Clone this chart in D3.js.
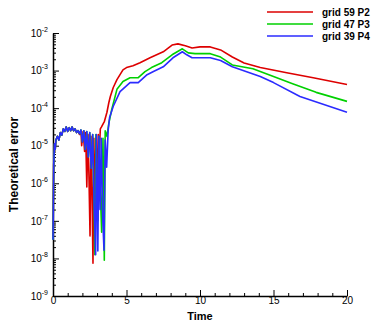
<!DOCTYPE html>
<html>
<head>
<meta charset="utf-8">
<script src="https://cdn.jsdelivr.net/npm/d3@7"></script>
<style>
  body { margin: 0; background: #fff; }
  svg { font-family: "Liberation Sans", Arial, sans-serif; }
  .axis path, .axis line { stroke: #000; }
</style>
</head>
<body>
<div id="chart"></div>
<script>
let width = 374;
let height = 322;
let padding = { left: 53, right: 27, top: 33, bottom: 26 };

// series: [time, log10(error)]
let redData = [
  [0, -7.4], [0.05, -5.5], [0.1, -4.95], [0.15, -5.1], [0.2, -4.85], [0.3, -4.75], [0.4, -4.85],
  [0.5, -4.65], [0.6, -4.72], [0.7, -4.55], [0.8, -4.62], [0.9, -4.5], [1.0, -4.62], [1.1, -4.52],
  [1.2, -4.6], [1.3, -4.5], [1.4, -4.6], [1.5, -4.55], [1.6, -4.65], [1.7, -4.6], [1.8, -4.7],
  [1.9, -4.6], [1.95, -5.0], [2.05, -4.62], [2.15, -5.15], [2.22, -4.65], [2.3, -6.1], [2.38, -4.7],
  [2.45, -5.9], [2.52, -7.4], [2.58, -4.75], [2.65, -6.2], [2.72, -8.13], [2.78, -4.8], [2.85, -6.8],
  [2.92, -4.8], [3.0, -5.8], [3.08, -4.7], [3.15, -5.2], [3.22, -4.55], [3.3, -4.5], [3.5, -4.35],
  [3.67, -4.11], [3.8, -3.85], [3.9, -3.69], [4.1, -3.45], [4.35, -3.24], [4.76, -2.98], [5.0, -2.92],
  [5.44, -2.87], [5.92, -2.79], [6.6, -2.66], [7.5, -2.5], [8.1, -2.32], [8.5, -2.29], [9.0, -2.34],
  [9.46, -2.4], [10.0, -2.37], [10.7, -2.37], [11.4, -2.45], [12.2, -2.64], [13.0, -2.8], [14.1, -2.92],
  [15.9, -3.06], [17.7, -3.19], [20, -3.37]
];
let greenData = [
  [0, -7.5], [0.05, -5.5], [0.1, -4.95], [0.15, -5.1], [0.2, -4.85], [0.3, -4.75], [0.4, -4.85],
  [0.5, -4.65], [0.6, -4.72], [0.7, -4.55], [0.8, -4.62], [0.9, -4.5], [1.0, -4.62], [1.1, -4.52],
  [1.2, -4.6], [1.3, -4.5], [1.4, -4.6], [1.5, -4.55], [1.6, -4.65], [1.7, -4.6], [1.8, -4.68],
  [1.9, -4.58], [2.0, -4.9], [2.1, -4.6], [2.2, -5.1], [2.3, -4.62], [2.4, -5.3], [2.5, -4.65],
  [2.6, -5.6], [2.7, -4.7], [2.85, -7.9], [2.92, -4.7], [3.05, -7.0], [3.12, -4.75], [3.2, -6.0],
  [3.31, -7.3], [3.4, -4.8], [3.49, -8.05], [3.55, -4.6], [3.67, -4.75], [3.8, -4.4], [4.0, -4.03],
  [4.35, -3.5], [4.76, -3.29], [5.24, -3.19], [5.8, -3.19], [6.26, -3.03], [6.7, -2.92], [7.4, -2.79],
  [8.1, -2.58], [8.8, -2.42], [9.2, -2.53], [9.66, -2.55], [10.7, -2.55], [11.4, -2.64], [12.2, -2.85],
  [13.6, -2.95], [15.0, -3.16], [16.3, -3.35], [17.9, -3.58], [20, -3.82]
];
let blueData = [
  [0, -7.5], [0.05, -5.5], [0.1, -4.95], [0.15, -5.1], [0.2, -4.85], [0.3, -4.75], [0.4, -4.85],
  [0.5, -4.65], [0.6, -4.72], [0.7, -4.55], [0.8, -4.62], [0.9, -4.5], [1.0, -4.62], [1.1, -4.52],
  [1.2, -4.6], [1.3, -4.5], [1.4, -4.6], [1.5, -4.55], [1.6, -4.65], [1.7, -4.6], [1.8, -4.68],
  [1.9, -4.58], [2.0, -4.9], [2.1, -4.6], [2.2, -5.1], [2.3, -4.62], [2.4, -5.3], [2.5, -4.65],
  [2.6, -5.6], [2.7, -4.7], [2.8, -6.6], [2.9, -7.9], [2.95, -4.7], [3.05, -7.8], [3.12, -4.75],
  [3.2, -6.7], [3.28, -4.8], [3.38, -6.9], [3.47, -7.78], [3.55, -4.85], [3.65, -5.57], [3.75, -4.6],
  [3.85, -4.25], [4.1, -3.95], [4.56, -3.56], [5.24, -3.32], [5.8, -3.32], [6.4, -3.11], [6.8, -3.03],
  [7.5, -2.9], [8.16, -2.66], [8.8, -2.5], [9.1, -2.58], [9.46, -2.66], [10.7, -2.66], [11.4, -2.73],
  [12.2, -2.9], [14.1, -3.16], [15.0, -3.32], [16.8, -3.69], [20, -4.11]
];

let seriesNames = ['grid 59 P2', 'grid 47 P3', 'grid 39 P4'];
let seriesColors = ['#dd0000', '#00d000', '#2b2bff'];
let xTicks = [0, 5, 10, 15, 20];
let yExponents = [-9, -8, -7, -6, -5, -4, -3, -2];

let svg = d3.select('#chart').append('svg')
  .attr('width', width).attr('height', height);

let xScale = d3.scaleLinear()
  .domain([0, 20])
  .range([padding.left, width - padding.right]);
let yScale = d3.scaleLog()
  .domain([1e-9, 1e-2])
  .range([height - padding.bottom, padding.top]);

// minor ticks
let yMinor = [];
yExponents.slice(0, -1).forEach(e => {
  for (let k = 2; k <= 9; k++) yMinor.push(k * Math.pow(10, e));
});
let xMinor = d3.range(0, 21, 1).filter(v => v % 5 !== 0);

svg.append('g')
  .attr('class', 'axis')
  .attr('transform', 'translate(' + padding.left + ',0)')
  .call(d3.axisLeft(yScale).tickValues(yMinor).tickSize(-3).tickFormat(''))
  .call(g => g.select('.domain').remove());
svg.append('g')
  .attr('class', 'axis')
  .attr('transform', 'translate(0,' + (height - padding.bottom) + ')')
  .call(d3.axisBottom(xScale).tickValues(xMinor).tickSize(-3).tickFormat(''))
  .call(g => g.select('.domain').remove());

let yAxis = svg.append('g')
  .attr('class', 'axis')
  .attr('transform', 'translate(' + padding.left + ',0)')
  .call(d3.axisLeft(yScale).tickValues(yExponents.map(e => Math.pow(10, e)))
    .tickSizeInner(-6).tickSizeOuter(0).tickPadding(5).tickFormat(''));
yAxis.selectAll('.tick text').each(function (d) {
  let t = d3.select(this)
    .attr('font-size', 10).attr('fill', '#000')
    .attr('font-family', '"Liberation Sans", Arial, sans-serif');
  t.append('tspan').text('10');
  t.append('tspan').text(Math.round(Math.log10(d)))
    .attr('font-size', 7).attr('dy', -5);
});

let xAxis = svg.append('g')
  .attr('class', 'axis')
  .attr('transform', 'translate(0,' + (height - padding.bottom) + ')')
  .call(d3.axisBottom(xScale).tickValues(xTicks)
    .tickSizeInner(-6).tickSizeOuter(0).tickPadding(1));
xAxis.selectAll('.tick text')
  .attr('font-size', 10).attr('fill', '#000')
  .attr('font-family', '"Liberation Sans", Arial, sans-serif');
svg.selectAll('.axis .domain').attr('stroke-width', 1.5);
svg.selectAll('.axis line').attr('stroke-width', 1);

// curves
let line = d3.line()
  .x(d => xScale(d[0]))
  .y(d => yScale(Math.pow(10, d[1])));
[redData, greenData, blueData].forEach((data, i) => {
  svg.append('path')
    .datum(data)
    .attr('d', line)
    .attr('fill', 'none')
    .attr('stroke', seriesColors[i])
    .attr('stroke-width', 1.6)
    .attr('stroke-linejoin', 'round');
});

// legend
let legend = svg.append('g');
seriesNames.forEach((name, i) => {
  let y = 12 + i * 12;
  legend.append('line')
    .attr('x1', 267).attr('x2', 313).attr('y1', y).attr('y2', y)
    .attr('stroke', seriesColors[i]).attr('stroke-width', 1.6);
  legend.append('text')
    .attr('x', 322).attr('y', y + 3.5)
    .attr('font-size', 10).attr('font-weight', 'bold')
    .text(name);
});

// axis titles
svg.append('text')
  .attr('x', xScale(10)).attr('y', 319.5)
  .attr('text-anchor', 'middle')
  .attr('font-size', 11).attr('font-weight', 'bold')
  .text('Time');
svg.append('text')
  .attr('transform', 'translate(18,' + yScale(Math.pow(10, -5.5)) + ') rotate(-90)')
  .attr('text-anchor', 'middle')
  .attr('font-size', 12).attr('font-weight', 'bold')
  .text('Theoretical error');
</script>
</body>
</html>
